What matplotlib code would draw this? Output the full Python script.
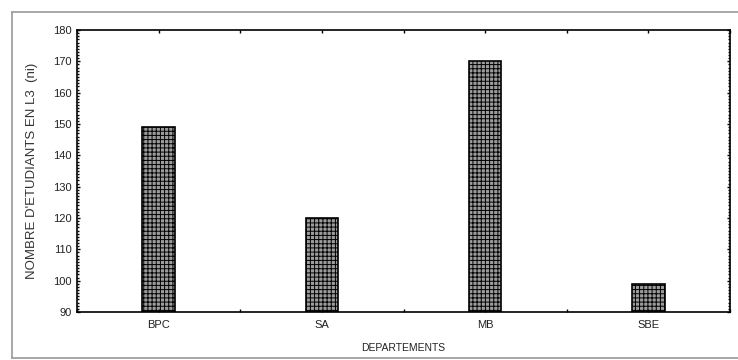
import numpy as np
import matplotlib
matplotlib.use('Agg')
import matplotlib.pyplot as plt
from matplotlib.lines import Line2D
from matplotlib.ticker import MultipleLocator

departements = ['BPC', 'SA', 'MB', 'SBE']
effectifs = [149, 120, 170, 99]

plt.rcParams['font.family'] = ['Liberation Sans', 'DejaVu Sans']
plt.rcParams['hatch.color'] = '#505050'
plt.rcParams['hatch.linewidth'] = 0.7

fig = plt.figure(figsize=(7.38, 3.6), dpi=100)
ax = fig.add_axes([77 / 738, 1 - 312 / 360, (730 - 77) / 738, (312 - 30) / 360])

# cadre gris autour de la figure
W, H = 738, 360
for xs, ys in [([12, 12], [12, 358]), ([12, 738], [12, 12]), ([12, 738], [358, 358])]:
    fig.lines.append(Line2D([v / W for v in xs], [1 - v / H for v in ys],
                            transform=fig.transFigure, color='#a0a0a0', linewidth=1.3))

x = np.arange(len(departements))
ax.bar(x, [v - 90 for v in effectifs], bottom=90, width=0.2,
       color='#9c9c9c', edgecolor='black', linewidth=1.2, hatch='++++')

ax.set_xlim(-0.5, 3.5)
ax.set_ylim(90, 180)
ax.set_xticks(x)
ax.set_xticklabels(departements)
ax.set_xticks(np.arange(-0.5, 3.6, 0.5), minor=True)
ax.yaxis.set_major_locator(MultipleLocator(10))
ax.yaxis.set_minor_locator(MultipleLocator(1))

ax.tick_params(which='both', direction='in', top=True, right=True,
               labelsize=8, width=1.0, length=2, labelcolor='#222222')
ax.tick_params(axis='x', which='major', pad=6)
ax.tick_params(axis='y', which='major', pad=4)
ax.tick_params(axis='y', which='minor', length=1.5)

for s in ax.spines.values():
    s.set_linewidth(1.2)

ax.set_xlabel('DEPARTEMENTS', fontsize=7.5, labelpad=9, color='#222222')
ax.set_ylabel("NOMBRE D'ETUDIANTS EN L3  (ni)", fontsize=9.5, labelpad=11,
              color='#333333')

fig.savefig('out.png', dpi=100)
